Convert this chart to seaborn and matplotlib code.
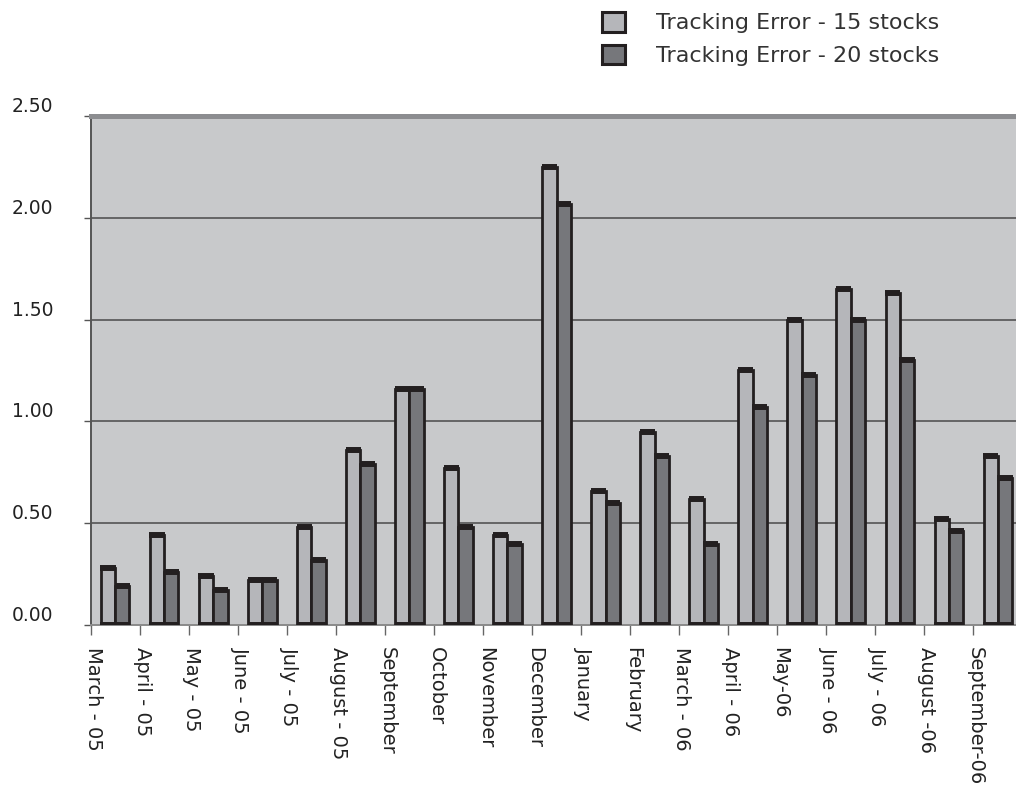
import numpy as np
import pandas as pd
import matplotlib
matplotlib.use("Agg")
import matplotlib.pyplot as plt
from matplotlib.patches import Patch
import seaborn as sns

# Monthly tracking error of the two replicating portfolios
months = ["March - 05", "April - 05", "May - 05", "June - 05", "July - 05",
          "August - 05", "September", "October", "November", "December",
          "January", "February", "March - 06", "April - 06", "May-06",
          "June - 06", "July - 06", "August -06", "September-06"]
te_15 = [0.28, 0.44, 0.24, 0.22, 0.48, 0.86, 1.16, 0.77, 0.44, 2.25,
         0.66, 0.95, 0.62, 1.25, 1.50, 1.65, 1.63, 0.52, 0.83]
te_20 = [0.19, 0.26, 0.17, 0.22, 0.32, 0.79, 1.16, 0.48, 0.40, 2.07,
         0.60, 0.83, 0.40, 1.07, 1.23, 1.50, 1.30, 0.46, 0.72]
series = ["Tracking Error - 15 stocks", "Tracking Error - 20 stocks"]
y_ticks = [0.0, 0.5, 1.0, 1.5, 2.0, 2.5]

df = pd.DataFrame({
    "month": months * 2,
    "value": te_15 + te_20,
    "series": [series[0]] * len(months) + [series[1]] * len(months),
})

plt.rcParams["font.family"] = ["DejaVu Sans"]

light, dark, edge = "#b5b6ba", "#76777b", "#231f20"
bg = "#c8c9cb"

fig = plt.figure(figsize=(10.16, 7.89), dpi=100)
ax = fig.add_axes([0.0893, 0.2079, 0.9169, 0.6451])
ax.set_facecolor(bg)

sns.barplot(data=df, x="month", y="value", hue="series", order=months,
            hue_order=series, palette=[light, dark], width=0.58,
            edgecolor=edge, linewidth=2.0, saturation=1, ax=ax,
            legend=False, zorder=3)

# thick caps along the top and bottom of every bar
pad = 0.012
for p in ax.patches:
    x0, w, h = p.get_x(), p.get_width(), p.get_height()
    for yy in (h, 0.0):
        ax.plot([x0 - pad, x0 + w + pad], [yy, yy], color=edge, lw=4.3,
                solid_capstyle="butt", zorder=4)

ax.set_xlim(-0.5, len(months) - 0.5)
ax.set_ylim(0, 2.5)
ax.set_xlabel("")
ax.set_ylabel("")

# horizontal grid
for g in y_ticks[1:-1]:
    ax.axhline(g, color="#4a4a4a", lw=1.1, zorder=1)

# spines
ax.spines["right"].set_visible(False)
ax.spines["top"].set_color("#8c8d90")
ax.spines["top"].set_linewidth(3.6)
ax.spines["left"].set_color("#555555")
ax.spines["left"].set_linewidth(1.4)
ax.spines["bottom"].set_color("#8a8a8a")
ax.spines["bottom"].set_linewidth(1.4)

# y axis
ax.set_yticks(y_ticks)
ax.set_yticklabels([f"{v:.2f}" for v in y_ticks])
ax.tick_params(axis="y", direction="out", length=5, width=1.0,
               color="#555555", pad=22, labelsize=13.5, labelcolor="#222222")
for lab in ax.get_yticklabels():
    lab.set_verticalalignment("bottom")

# x axis: tick marks on category boundaries, labels near the left boundary
ax.set_xticks(np.arange(len(months)) - 0.45)
ax.set_xticklabels(months, rotation=-90, ha="center", va="top")
ax.set_xticks(np.arange(len(months) + 1) - 0.5, minor=True)
ax.tick_params(axis="x", which="major", length=0, pad=16, labelsize=14,
               labelcolor="#222222")
ax.tick_params(axis="x", which="minor", direction="out", length=7.2,
               width=1.0, color="#666666")

handles = [Patch(facecolor=light, edgecolor=edge, lw=2.2),
           Patch(facecolor=dark, edgecolor=edge, lw=2.2)]
fig.legend(handles, series, loc="upper left", bbox_to_anchor=(0.582, 0.999),
           frameon=False, fontsize=16, handlelength=1.0, handleheight=1.0,
           handletextpad=1.4, labelspacing=0.5, borderpad=0,
           labelcolor="#333333")

fig.savefig("out.png", dpi=100)
